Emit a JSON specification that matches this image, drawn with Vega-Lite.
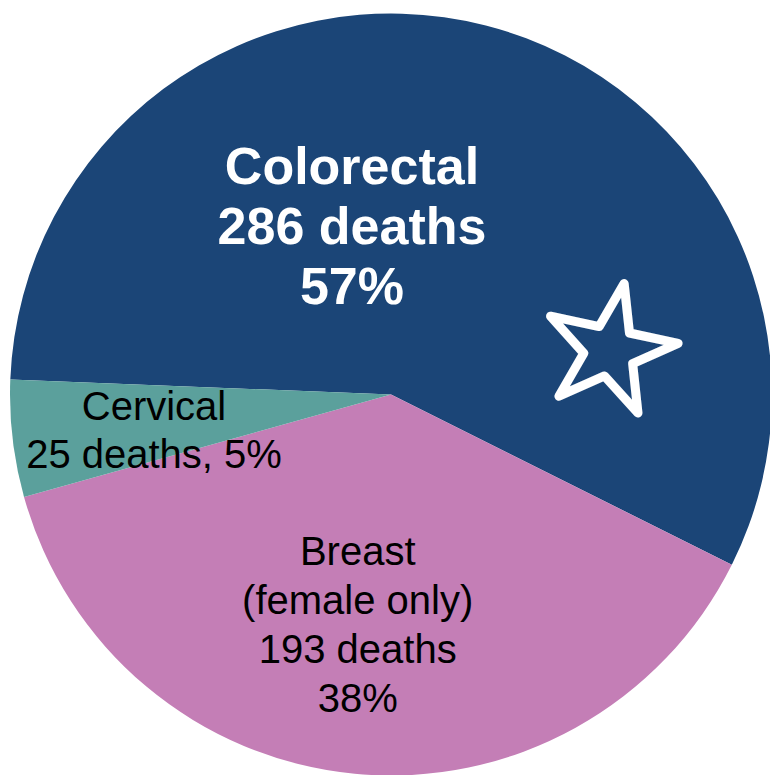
{
  "$schema": "https://vega.github.io/schema/vega-lite/v6.json",
  "width": 770,
  "height": 775,
  "autosize": {"type": "fit", "contains": "padding"},
  "padding": 0,
  "background": "white",
  "config": {"view": {"stroke": null}},
  "data": {"values": [
    {"cat": "Colorectal", "deaths": 286, "rank": 1, "label": "Colorectal|286 deaths|57%", "icon": "★"},
    {"cat": "Breast", "deaths": 193, "rank": 2, "label": "Breast|(female only)|193 deaths|38%", "icon": ""},
    {"cat": "Cervical", "deaths": 25, "rank": 3, "label": "Cervical|25 deaths, 5%", "icon": ""}
  ]},
  "encoding": {
    "theta": {"field": "deaths", "type": "quantitative", "stack": true, "scale": {"range": [4.752, 11.035]}},
    "order": {"field": "rank", "type": "quantitative"}
  },
  "layer": [
    {
      "mark": {"type": "arc", "outerRadius": 381, "xOffset": 8, "yOffset": 7.5},
      "encoding": {
        "color": {"field": "cat", "type": "nominal", "legend": null,
          "scale": {"domain": ["Colorectal", "Breast", "Cervical"], "range": ["#1B4577", "#C47EB6", "#5BA09C"]}}
      }
    },
    {
      "mark": {"type": "text", "radius": 216.9, "dx": -93, "xOffset": 8, "yOffset": 7.5,
        "font": "Liberation Sans", "fontWeight": "bold", "fontSize": 52, "lineHeight": 60,
        "lineBreak": "|", "color": "white", "align": "center", "baseline": "alphabetic"},
      "encoding": {"text": {"condition": {"test": "datum.cat === 'Colorectal'", "field": "label"}, "value": ""}}
    },
    {
      "mark": {"type": "text", "radius": 170.8, "dx": -17, "xOffset": 8, "yOffset": 7.5,
        "font": "Liberation Sans", "fontSize": 40, "lineHeight": 49,
        "lineBreak": "|", "color": "black", "align": "center", "baseline": "alphabetic"},
      "encoding": {"text": {"condition": {"test": "datum.cat === 'Breast'", "field": "label"}, "value": ""}}
    },
    {
      "mark": {"type": "text", "radius": 238.6, "dy": -2.5, "xOffset": 8, "yOffset": 7.5,
        "font": "Liberation Sans", "fontSize": 40, "lineHeight": 48,
        "lineBreak": "|", "color": "black", "align": "center", "baseline": "alphabetic"},
      "encoding": {"text": {"condition": {"test": "datum.cat === 'Cervical'", "field": "label"}, "value": ""}}
    },
    {
      "mark": {"type": "text", "radius": 0, "dx": 205, "dy": -85, "xOffset": 8, "yOffset": 7.5,
        "font": "DejaVu Sans", "fontSize": 170, "angle": 12,
        "fill": "#1B4577", "stroke": "white", "strokeWidth": 9, "strokeJoin": "round",
        "align": "center", "baseline": "middle"},
      "encoding": {"text": {"field": "icon", "type": "nominal"}}
    }
  ]
}
